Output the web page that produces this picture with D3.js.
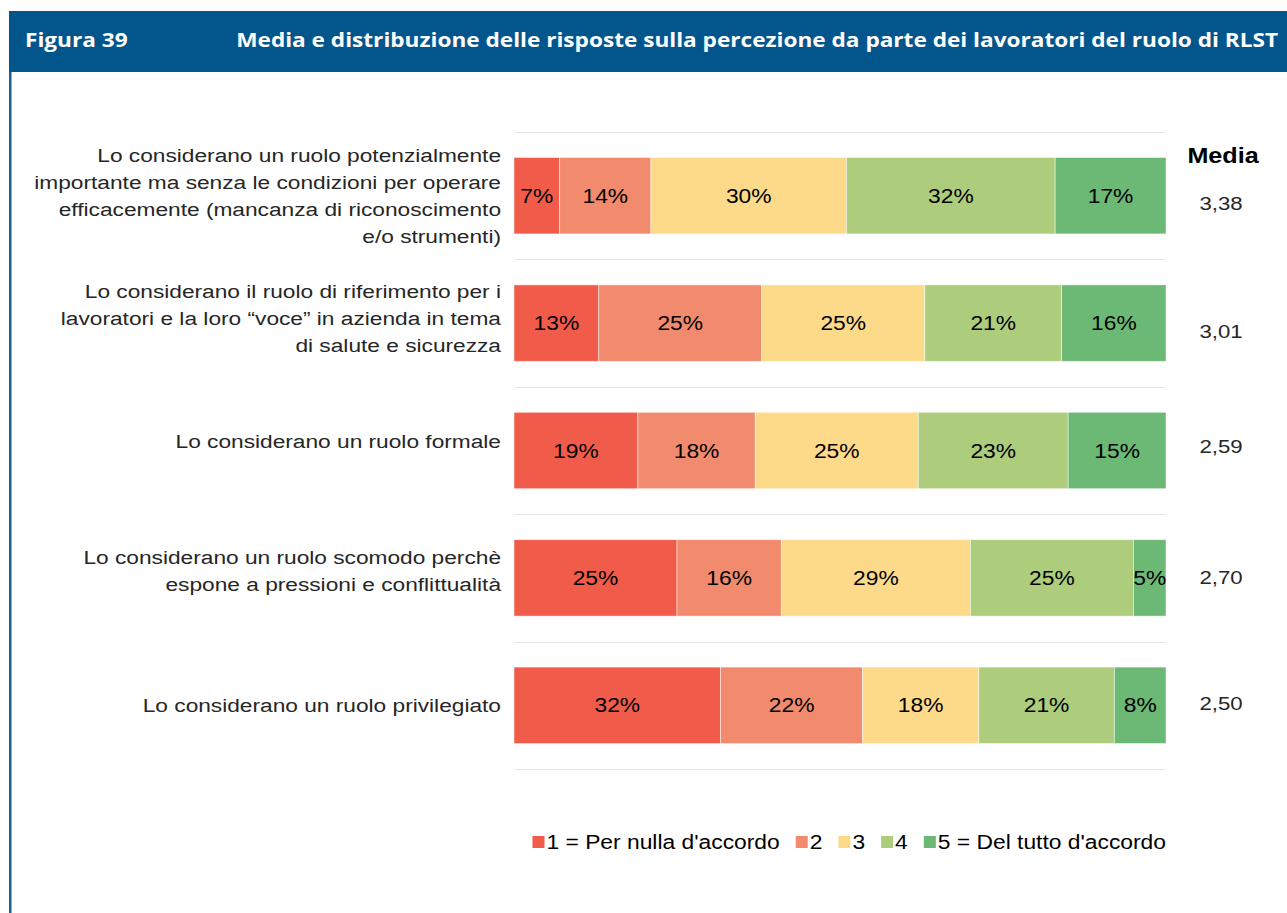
<!DOCTYPE html>
<html>
<head>
<meta charset="utf-8">
<script src="https://cdn.jsdelivr.net/npm/d3@7/dist/d3.min.js"></script>
<style>
  html, body { margin: 0; padding: 0; background: #fff; }
  svg { display: block; }
</style>
</head>
<body>
<svg id="chart" width="1287" height="913"></svg>
<script>
// Survey items (one stacked bar each)
const categories = [
  "Lo considerano un ruolo potenzialmente importante ma senza le condizioni per operare efficacemente (mancanza di riconoscimento e/o strumenti)",
  "Lo considerano il ruolo di riferimento per i lavoratori e la loro “voce” in azienda in tema di salute e sicurezza",
  "Lo considerano un ruolo formale",
  "Lo considerano un ruolo scomodo perchè espone a pressioni e conflittualità",
  "Lo considerano un ruolo privilegiato"
];
// Wrapped lines for the item labels
const categoryLines = [
  ["Lo considerano un ruolo potenzialmente", "importante ma senza le condizioni per operare", "efficacemente (mancanza di riconoscimento", "e/o strumenti)"],
  ["Lo considerano il ruolo di riferimento per i", "lavoratori e la loro “voce” in azienda in tema", "di salute e sicurezza"],
  ["Lo considerano un ruolo formale"],
  ["Lo considerano un ruolo scomodo perchè", "espone a pressioni e conflittualità"],
  ["Lo considerano un ruolo privilegiato"]
];
// Answer scale (legend)
const scaleLabels = ["1 = Per nulla d'accordo", "2", "3", "4", "5 = Del tutto d'accordo"];
// Percentage of answers per level, one array per level
const level1 = [7, 13, 19, 25, 32];
const level2 = [14, 25, 18, 16, 22];
const level3 = [30, 25, 25, 29, 18];
const level4 = [32, 21, 23, 25, 21];
const level5 = [17, 16, 15, 5, 8];
// Mean score per item
const means = ["3,38", "3,01", "2,59", "2,70", "2,50"];

const levelColors = ["#F15C4A", "#F28B6D", "#FCDA8A", "#AECD7C", "#6CB875"];

// Layout tweaks: vertical nudges (px) of item labels and mean values
const labelNudge = [0, -5, -9, -7, 0];
const meanNudge = [7, 8, -4, -1, -2];
const SX = 1.17; // horizontal text stretch

const svg = d3.select("#chart");
const W = 1287, H = 913;
const font = "'Liberation Sans', Arial, sans-serif";

// Place a text element at (x, y) with horizontal stretch
function place(sel, x, y, sx = SX) {
  return sel.attr("transform", `translate(${x},${y}) scale(${sx},1)`);
}

// Header band
svg.append("rect").attr("x", 9).attr("y", 11).attr("width", W - 9).attr("height", 61).attr("fill", "#03568C");
svg.append("rect").attr("x", 9).attr("y", 72).attr("width", 2.5).attr("height", H - 72).attr("fill", "#1B5F97");
place(svg.append("text"), 25, 47, 1.16)
  .attr("font-family", "'Open Sans', sans-serif").attr("font-weight", 700).attr("font-size", 19.5)
  .attr("fill", "#fff").text("Figura 39");
place(svg.append("text"), 1278, 47, 1.16).attr("text-anchor", "end")
  .attr("font-family", "'Open Sans', sans-serif").attr("font-weight", 700).attr("font-size", 19.5)
  .attr("fill", "#fff").text("Media e distribuzione delle risposte sulla percezione da parte dei lavoratori del ruolo di RLST");

// Plot geometry
const plot = { left: 514, right: 1166, top: 132, bottom: 769 };

const rows = categories.map((c, i) => ({
  cat: c, v1: level1[i], v2: level2[i], v3: level3[i], v4: level4[i], v5: level5[i]
}));
const keys = ["v1", "v2", "v3", "v4", "v5"];
const series = d3.stack().keys(keys).offset(d3.stackOffsetExpand)(rows);

const x = d3.scaleLinear().domain([0, 1]).range([plot.left, plot.right]);
const y = d3.scaleBand().domain(categories).range([plot.top, plot.bottom])
  .paddingInner(0.4).paddingOuter(0.2);

// Horizontal gridlines at category boundaries
const step = y.step();
const gridYs = d3.range(categories.length + 1).map(i => plot.top + i * step);
svg.append("g").selectAll("line").data(gridYs).join("line")
  .attr("x1", plot.left).attr("x2", plot.right)
  .attr("y1", d => Math.round(d) + 0.5).attr("y2", d => Math.round(d) + 0.5)
  .attr("stroke", "#E6E6E6").attr("stroke-width", 1);

// Stacked bars
const gSeries = svg.append("g").selectAll("g").data(series).join("g")
  .attr("fill", (d, i) => levelColors[i]);
gSeries.selectAll("rect").data(d => d.map(p => ({ p, key: d.key }))).join("rect")
  .attr("x", d => x(d.p[0]))
  .attr("width", d => x(d.p[1]) - x(d.p[0]))
  .attr("y", d => y(d.p.data.cat))
  .attr("height", y.bandwidth())
  .attr("stroke", "rgba(255,255,255,0.6)").attr("stroke-width", 0.8);

// Segment value labels
gSeries.selectAll("text").data(d => d.map(p => ({ p, key: d.key }))).join("text")
  .attr("transform", d => `translate(${(x(d.p[0]) + x(d.p[1])) / 2},${y(d.p.data.cat) + y.bandwidth() / 2}) scale(${SX},1)`)
  .attr("dy", "0.36em")
  .attr("text-anchor", "middle")
  .attr("font-family", font).attr("font-size", 19.5).attr("fill", "#000")
  .text(d => d.p.data[d.key] + "%");

// Item labels (right aligned, left of the bars)
const lineH = 27;
const gCat = svg.append("g");
categories.forEach((c, i) => {
  const lines = categoryLines[i];
  const cy = y(c) + y.bandwidth() / 2 + labelNudge[i];
  const t = place(gCat.append("text"), 501, cy, 1.195)
    .attr("text-anchor", "end")
    .attr("font-family", font).attr("font-size", 19).attr("fill", "#262626");
  lines.forEach((ln, j) => {
    t.append("tspan").attr("x", 0)
      .attr("y", (j - (lines.length - 1) / 2) * lineH)
      .attr("dy", "0.36em").text(ln);
  });
});

// Mean column
place(svg.append("text"), 1223, 155).attr("dy", "0.36em").attr("text-anchor", "middle")
  .attr("font-family", font).attr("font-weight", 700).attr("font-size", 21.5).attr("fill", "#000").text("Media");
svg.append("g").selectAll("text").data(categories).join("text")
  .attr("transform", (d, i) => `translate(1221,${y(d) + y.bandwidth() / 2 + meanNudge[i]}) scale(${SX},1)`)
  .attr("dy", "0.36em").attr("text-anchor", "middle")
  .attr("font-family", font).attr("font-size", 19).attr("fill", "#262626")
  .text((d, i) => means[i]);

// Legend, right aligned to the plot
const legend = svg.append("g");
const legY = 842, sq = 12, gapText = 2, gapItem = 16;
const items = scaleLabels.map((lab, i) => {
  const g = legend.append("g");
  g.append("rect").attr("width", sq).attr("height", sq).attr("y", legY - sq / 2).attr("fill", levelColors[i]);
  const t = place(g.append("text"), sq + gapText, legY).attr("dy", "0.36em")
    .attr("font-family", font).attr("font-size", 19.5).attr("fill", "#000").text(lab);
  return { g, w: sq + gapText + t.node().getComputedTextLength() * SX };
});
const totalW = d3.sum(items, d => d.w) + gapItem * (items.length - 1);
let cx = plot.right - totalW;
items.forEach(it => { it.g.attr("transform", `translate(${cx},0)`); cx += it.w + gapItem; });
</script>
</body>
</html>
